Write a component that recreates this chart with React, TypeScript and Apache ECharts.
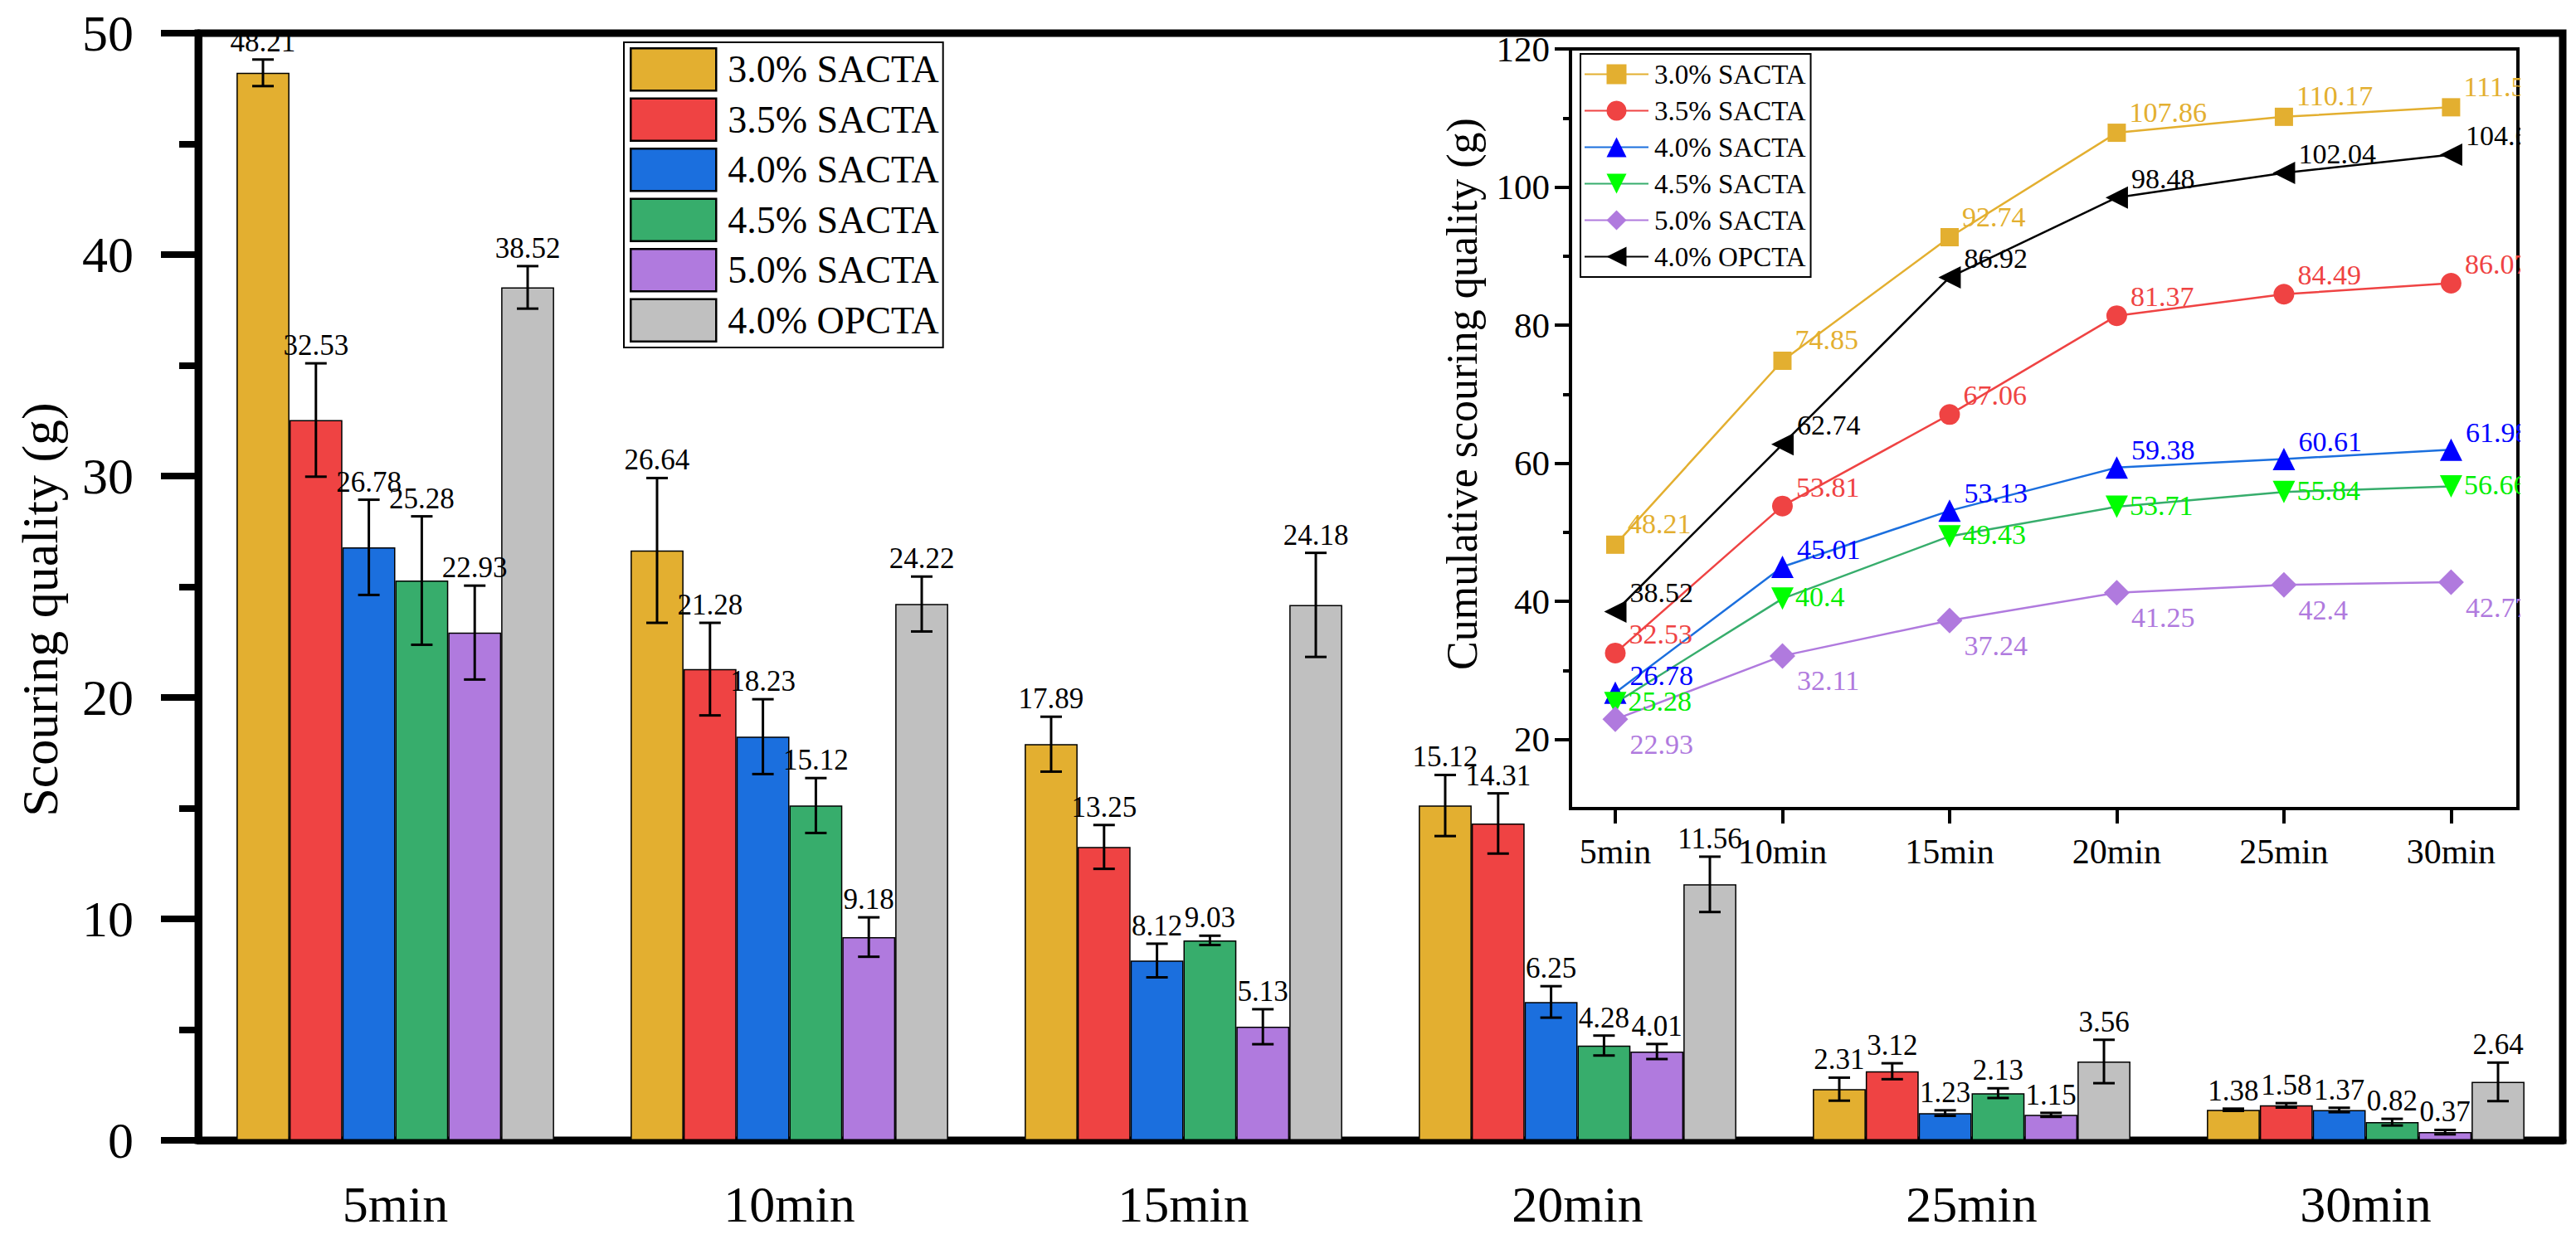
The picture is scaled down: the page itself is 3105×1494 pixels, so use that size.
import React, { useEffect, useRef } from 'react';
import * as echarts from 'echarts';

const FONT = 'Liberation Serif';

// ---- main bar chart data ----
const categories = ['5min', '10min', '15min', '20min', '25min', '30min'];
const seriesNames = ['3.0% SACTA', '3.5% SACTA', '4.0% SACTA', '4.5% SACTA', '5.0% SACTA', '4.0% OPCTA'];
const barColors = ['#E3AF30', '#EF4343', '#1B6FDE', '#37AD6C', '#B07ADE', '#C0C0C0'];

const sacta30 = [48.21, 26.64, 17.89, 15.12, 2.31, 1.38];
const sacta35 = [32.53, 21.28, 13.25, 14.31, 3.12, 1.58];
const sacta40 = [26.78, 18.23, 8.12, 6.25, 1.23, 1.37];
const sacta45 = [25.28, 15.12, 9.03, 4.28, 2.13, 0.82];
const sacta50 = [22.93, 9.18, 5.13, 4.01, 1.15, 0.37];
const opcta40 = [38.52, 24.22, 24.18, 11.56, 3.56, 2.64];

const err30 = [0.6, 3.27, 1.24, 1.38, 0.52, 0.05];
const err35 = [2.56, 2.09, 0.99, 1.36, 0.36, 0.1];
const err40 = [2.15, 1.69, 0.76, 0.71, 0.125, 0.1];
const err45 = [2.9, 1.24, 0.21, 0.45, 0.22, 0.15];
const err50 = [2.12, 0.89, 0.79, 0.34, 0.09, 0.1];
const errOp = [0.96, 1.24, 2.35, 1.25, 0.98, 0.87];

const yTicksMain = [0, 10, 20, 30, 40, 50];

// ---- inset cumulative data ----
const minutes = [5, 10, 15, 20, 25, 30];
const cum30 = [48.21, 74.85, 92.74, 107.86, 110.17, 111.55];
const cum35 = [32.53, 53.81, 67.06, 81.37, 84.49, 86.07];
const cum40 = [26.78, 45.01, 53.13, 59.38, 60.61, 61.98];
const cum45 = [25.28, 40.4, 49.43, 53.71, 55.84, 56.66];
const cum50 = [22.93, 32.11, 37.24, 41.25, 42.4, 42.77];
const cumOp = [38.52, 62.74, 86.92, 98.48, 102.04, 104.68];

const insetYMajor = [20, 40, 60, 80, 100, 120];
const insetYMinor = [30, 50, 70, 90, 110];

const lineColors = ['#E3AF30', '#EF4343', '#1B6FDE', '#37AD6C', '#B07ADE', '#000000'];
const markerColors = ['#E3AF30', '#EF4343', '#0000FF', '#00FF00', '#B07ADE', '#000000'];
const labelColors = ['#E3AF30', '#EF4343', '#0000FF', '#00EE00', '#B07ADE', '#000000'];
const symbols = ['rect', 'circle', 'triangle', 'triangle', 'diamond', 'triangle'];
const symbolRotates = [0, 0, 0, 180, 0, 90];
const symbolSizes = [22, 25, 27, 27, 31, 27];
const labelOffsets = [[2, -25], [2, -23], [2, -21], [0, -2], [0, 30], [2, -23]];

const GAP = 0.194;

export default function App() {
  const ref = useRef<HTMLDivElement>(null);

  useEffect(() => {
    if (!ref.current) return;
    const chart = echarts.init(ref.current, undefined, { renderer: 'svg' });

    const barValues = [sacta30, sacta35, sacta40, sacta45, sacta50, opcta40];
    const barErrs = [err30, err35, err40, err45, err50, errOp];
    const cumValues = [cum30, cum35, cum40, cum45, cum50, cumOp];

    const barSeries = seriesNames.map((name, si) => ({
      type: 'bar',
      name,
      xAxisIndex: 0,
      yAxisIndex: 0,
      data: barValues[si],
      barGap: '0%',
      barCategoryGap: (GAP * 100).toFixed(1) + '%',
      itemStyle: { color: barColors[si], borderColor: '#000', borderWidth: 1.5 },
      z: 2,
    }));

    const errSeries = seriesNames.map((name, si) => ({
      type: 'custom',
      name: 'err-' + name,
      xAxisIndex: 0,
      yAxisIndex: 0,
      z: 5,
      encode: { x: 0, y: 1 },
      data: barValues[si].map((v, i) => [i, v, barErrs[si][i]]),
      renderItem: (params: any, api: any) => {
        const idx = api.value(0);
        const v = api.value(1);
        const e = api.value(2);
        const base = api.coord([idx, v]);
        const catW = api.size([1, 0])[0];
        const bw = (catW * (1 - GAP)) / 6;
        const x = base[0] + (si - 2.5) * bw;
        const yTop = api.coord([idx, v + e])[1];
        const yBot = api.coord([idx, Math.max(0, v - e)])[1];
        const cap = 13;
        const ls = { stroke: '#000', lineWidth: 3 };
        return {
          type: 'group',
          children: [
            { type: 'line', shape: { x1: x, y1: yTop, x2: x, y2: yBot }, style: ls },
            { type: 'line', shape: { x1: x - cap, y1: yTop, x2: x + cap, y2: yTop }, style: ls },
            { type: 'line', shape: { x1: x - cap, y1: yBot, x2: x + cap, y2: yBot }, style: ls },
            {
              type: 'text',
              style: {
                text: v.toFixed(2),
                x,
                y: yTop - 4,
                align: 'center',
                verticalAlign: 'bottom',
                fontSize: 35,
                fontFamily: FONT,
                fill: '#000',
              },
            },
          ],
        };
      },
    }));

    const lineSeries = seriesNames.map((name, si) => ({
      type: 'line',
      name: 'L-' + name,
      xAxisIndex: 1,
      yAxisIndex: 1,
      data: minutes.map((m, i) => [m, cumValues[si][i]]),
      symbol: symbols[si],
      symbolRotate: symbolRotates[si],
      symbolSize: symbolSizes[si],
      lineStyle: { color: lineColors[si], width: 2.5 },
      itemStyle: { color: markerColors[si] },
      z: 10,
      label: {
        show: true,
        position: 'right',
        distance: 2,
        offset: labelOffsets[si],
        formatter: (p: any) => String(p.value[1]),
        color: labelColors[si],
        fontSize: 34,
        fontFamily: FONT,
      },
    }));

    const option: any = {
      animation: false,
      backgroundColor: '#fff',
      textStyle: { fontFamily: FONT, color: '#000' },
      grid: [
        {
          left: 239,
          top: 40,
          width: 2850,
          height: 1335,
          show: true,
          borderColor: '#000',
          borderWidth: 9,
          backgroundColor: 'transparent',
        },
        {
          left: 1893,
          top: 59,
          width: 1142,
          height: 916,
          show: true,
          borderColor: '#000',
          borderWidth: 4,
          backgroundColor: '#fff',
          z: 5,
        },
      ],
      legend: [
        {
          data: seriesNames,
          left: 752,
          top: 51,
          orient: 'vertical',
          icon: 'rect',
          itemWidth: 103,
          itemHeight: 51,
          itemGap: 7,
          padding: [6, 5, 6, 7],
          borderColor: '#000',
          borderWidth: 2,
          backgroundColor: '#fff',
          selectedMode: false,
          itemStyle: { borderColor: '#000', borderWidth: 2.5 },
          textStyle: { fontSize: 46, fontFamily: FONT, color: '#000', padding: [0, 0, 0, 9] },
        },
        {
          data: seriesNames.map((n) => 'L-' + n),
          formatter: (n: string) => n.replace(/^L-/, ''),
          left: 1905,
          top: 65,
          orient: 'vertical',
          itemWidth: 77,
          itemHeight: 30,
          itemGap: 11,
          padding: [8, 6, 8, 4],
          borderColor: '#000',
          borderWidth: 2,
          backgroundColor: '#fff',
          selectedMode: false,
          z: 20,
          textStyle: { fontSize: 33, fontFamily: FONT, color: '#000', padding: [0, 0, 0, 2] },
        },
      ],
      xAxis: [
        {
          type: 'category',
          gridIndex: 0,
          data: categories,
          axisLine: { lineStyle: { color: '#000', width: 9 } },
          axisTick: { show: false },
          axisLabel: { fontSize: 62, fontFamily: FONT, color: '#000', margin: 46 },
          splitLine: { show: false },
        },
        {
          type: 'value',
          gridIndex: 1,
          min: 3.66,
          max: 32,
          axisLine: { onZero: false, lineStyle: { color: '#000', width: 4 } },
          axisTick: { customValues: minutes, length: 18, lineStyle: { color: '#000', width: 4 } },
          axisLabel: {
            customValues: minutes,
            fontSize: 42,
            fontFamily: FONT,
            color: '#000',
            margin: 31,
            formatter: (v: number) => v + 'min',
          },
          splitLine: { show: false },
        },
      ],
      yAxis: [
        {
          type: 'value',
          gridIndex: 0,
          min: yTicksMain[0],
          max: yTicksMain[yTicksMain.length - 1],
          interval: 10,
          axisLine: { show: true, lineStyle: { color: '#000', width: 9 } },
          axisTick: { show: true, length: 45, lineStyle: { color: '#000', width: 8 } },
          minorTick: { show: true, splitNumber: 2, length: 23, lineStyle: { color: '#000', width: 8 } },
          axisLabel: { fontSize: 62, fontFamily: FONT, color: '#000', margin: 78 },
          splitLine: { show: false },
        },
        {
          type: 'value',
          gridIndex: 1,
          min: 10,
          max: 120,
          axisLine: { show: true, onZero: false, lineStyle: { color: '#000', width: 4 } },
          axisTick: { show: true, customValues: insetYMajor, length: 19, lineStyle: { color: '#000', width: 4 } },
          axisLabel: { customValues: insetYMajor, fontSize: 43, fontFamily: FONT, color: '#000', margin: 25 },
          splitLine: { show: false },
        },
        {
          type: 'value',
          gridIndex: 1,
          min: 10,
          max: 120,
          position: 'left',
          axisLine: { show: false },
          axisTick: { show: true, customValues: insetYMinor, length: 9, lineStyle: { color: '#000', width: 4 } },
          axisLabel: { show: false },
          splitLine: { show: false },
        },
      ],
      graphic: [
        {
          type: 'text',
          x: 48,
          y: 735,
          rotation: Math.PI / 2,
          style: {
            text: 'Scouring quality (g)',
            fontSize: 62,
            fontFamily: FONT,
            fill: '#000',
            align: 'center',
            verticalAlign: 'middle',
          },
        },
        {
          type: 'text',
          x: 1762,
          y: 475,
          rotation: Math.PI / 2,
          z: 30,
          style: {
            text: 'Cumulative scouring quality (g)',
            fontSize: 52,
            fontFamily: FONT,
            fill: '#000',
            align: 'center',
            verticalAlign: 'middle',
          },
        },
        {
          type: 'rect',
          z: 100,
          shape: { x: 3038, y: 62, width: 46, height: 911 },
          style: { fill: '#fff' },
        },
      ],
      series: [...barSeries, ...errSeries, ...lineSeries],
    };

    chart.setOption(option);
    return () => chart.dispose();
  }, []);

  return (
    <div
      ref={ref}
      style={{ position: 'fixed', left: 0, top: 0, width: 3105, height: 1494, background: '#fff' }}
    />
  );
}
